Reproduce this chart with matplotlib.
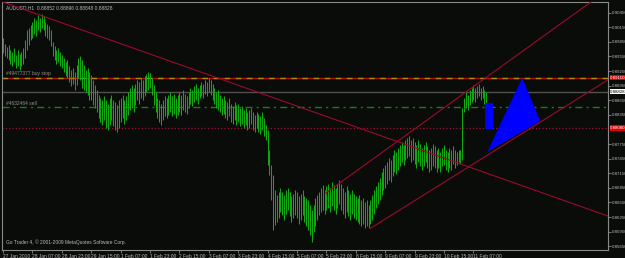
import matplotlib
matplotlib.use('Agg')
import matplotlib.pyplot as plt
import matplotlib.patches as mpatches

plt.rcParams['font.family'] = ['Liberation Sans Narrow', 'Liberation Sans', 'DejaVu Sans']

# AUDUSD H1 bars, highs / lows per hour (16 bars per time label)
highs = [
    0.8993, 0.8981, 0.8974, 0.8979, 0.8968, 0.8964, 0.8972, 0.8958, 0.8968, 0.8960, 0.8964, 0.8972, 0.8989, 0.9009, 0.9013, 0.9020,
    0.9026, 0.9034, 0.9030, 0.9040, 0.9034, 0.9042, 0.9038, 0.9026, 0.9022, 0.9018, 0.9009, 0.8985, 0.8976, 0.8968, 0.8972, 0.8964,
    0.8958, 0.8952, 0.8944, 0.8948, 0.8935, 0.8927, 0.8931, 0.8923, 0.8937, 0.8952, 0.8956, 0.8948, 0.8937, 0.8927, 0.8931, 0.8923,
    0.8917, 0.8907, 0.8896, 0.8886, 0.8876, 0.8870, 0.8866, 0.8874, 0.8866, 0.8857, 0.8870, 0.8876, 0.8866, 0.8861, 0.8855, 0.8866,
    0.8870, 0.8876, 0.8866, 0.8874, 0.8882, 0.8890, 0.8896, 0.8890, 0.8898, 0.8907, 0.8902, 0.8911, 0.8907, 0.8915, 0.8919, 0.8923,
    0.8921, 0.8911, 0.8896, 0.8882, 0.8870, 0.8866, 0.8857, 0.8866, 0.8874, 0.8870, 0.8876, 0.8882, 0.8874, 0.8878, 0.8870, 0.8876,
    0.8882, 0.8876, 0.8886, 0.8878, 0.8874, 0.8882, 0.8890, 0.8886, 0.8894, 0.8898, 0.8890, 0.8896, 0.8902, 0.8898, 0.8907, 0.8902,
    0.8911, 0.8907, 0.8898, 0.8890, 0.8882, 0.8886, 0.8876, 0.8870, 0.8874, 0.8866, 0.8861, 0.8870, 0.8857, 0.8853, 0.8861, 0.8855,
    0.8857, 0.8849, 0.8853, 0.8845, 0.8849, 0.8841, 0.8845, 0.8849, 0.8841, 0.8835, 0.8841, 0.8837, 0.8833, 0.8841, 0.8829, 0.8814,
    0.8804, 0.8763, 0.8732, 0.8711, 0.8681, 0.8670, 0.8676, 0.8685, 0.8676, 0.8670, 0.8681, 0.8685, 0.8676, 0.8668, 0.8672, 0.8681,
    0.8676, 0.8668, 0.8672, 0.8681, 0.8668, 0.8664, 0.8660, 0.8650, 0.8639, 0.8650, 0.8664, 0.8670, 0.8676, 0.8685, 0.8691, 0.8681,
    0.8689, 0.8693, 0.8685, 0.8697, 0.8691, 0.8685, 0.8693, 0.8701, 0.8693, 0.8685, 0.8676, 0.8689, 0.8681, 0.8672, 0.8681, 0.8672,
    0.8668, 0.8664, 0.8670, 0.8660, 0.8664, 0.8656, 0.8660, 0.8650, 0.8660, 0.8670, 0.8681, 0.8689, 0.8697, 0.8705, 0.8718, 0.8726,
    0.8732, 0.8738, 0.8746, 0.8742, 0.8752, 0.8763, 0.8759, 0.8767, 0.8773, 0.8779, 0.8773, 0.8783, 0.8787, 0.8792, 0.8783, 0.8787,
    0.8779, 0.8773, 0.8783, 0.8775, 0.8767, 0.8773, 0.8779, 0.8771, 0.8763, 0.8767, 0.8775, 0.8771, 0.8763, 0.8767, 0.8759, 0.8767,
    0.8773, 0.8763, 0.8759, 0.8767, 0.8763, 0.8771, 0.8763, 0.8759, 0.8763, 0.8763, 0.8849, 0.8870, 0.8882, 0.8876, 0.8886, 0.8890,
    0.8896, 0.8890, 0.8894, 0.8898, 0.8890, 0.8894, 0.8886, 0.8882,
]
lows = [
    0.8962, 0.8956, 0.8952, 0.8948, 0.8939, 0.8935, 0.8944, 0.8931, 0.8935, 0.8927, 0.8935, 0.8939, 0.8952, 0.8968, 0.8979, 0.8989,
    0.8993, 0.9001, 0.8997, 0.9009, 0.9005, 0.9013, 0.9009, 0.8997, 0.8993, 0.8989, 0.8976, 0.8956, 0.8948, 0.8939, 0.8944, 0.8935,
    0.8931, 0.8923, 0.8915, 0.8911, 0.8902, 0.8894, 0.8898, 0.8886, 0.8896, 0.8911, 0.8907, 0.8890, 0.8886, 0.8882, 0.8876, 0.8866,
    0.8866, 0.8855, 0.8849, 0.8841, 0.8829, 0.8820, 0.8814, 0.8824, 0.8808, 0.8804, 0.8814, 0.8824, 0.8812, 0.8804, 0.8800, 0.8808,
    0.8820, 0.8829, 0.8816, 0.8824, 0.8835, 0.8845, 0.8849, 0.8841, 0.8855, 0.8866, 0.8857, 0.8870, 0.8866, 0.8874, 0.8882, 0.8886,
    0.8890, 0.8876, 0.8855, 0.8841, 0.8829, 0.8820, 0.8814, 0.8824, 0.8833, 0.8829, 0.8835, 0.8841, 0.8833, 0.8837, 0.8829, 0.8835,
    0.8841, 0.8835, 0.8845, 0.8841, 0.8837, 0.8849, 0.8857, 0.8853, 0.8861, 0.8866, 0.8857, 0.8870, 0.8874, 0.8870, 0.8878, 0.8874,
    0.8882, 0.8876, 0.8866, 0.8857, 0.8849, 0.8845, 0.8841, 0.8835, 0.8837, 0.8829, 0.8824, 0.8833, 0.8820, 0.8816, 0.8824, 0.8814,
    0.8820, 0.8812, 0.8816, 0.8808, 0.8814, 0.8804, 0.8808, 0.8816, 0.8804, 0.8800, 0.8808, 0.8800, 0.8796, 0.8804, 0.8792, 0.8783,
    0.8732, 0.8711, 0.8660, 0.8598, 0.8609, 0.8615, 0.8623, 0.8635, 0.8629, 0.8619, 0.8631, 0.8639, 0.8627, 0.8615, 0.8623, 0.8629,
    0.8623, 0.8611, 0.8619, 0.8629, 0.8615, 0.8607, 0.8598, 0.8588, 0.8574, 0.8594, 0.8607, 0.8619, 0.8629, 0.8635, 0.8639, 0.8631,
    0.8639, 0.8644, 0.8635, 0.8648, 0.8639, 0.8631, 0.8644, 0.8652, 0.8639, 0.8631, 0.8623, 0.8635, 0.8627, 0.8619, 0.8631, 0.8623,
    0.8619, 0.8615, 0.8611, 0.8607, 0.8611, 0.8602, 0.8607, 0.8602, 0.8611, 0.8619, 0.8631, 0.8644, 0.8652, 0.8660, 0.8670, 0.8681,
    0.8685, 0.8693, 0.8701, 0.8697, 0.8709, 0.8718, 0.8713, 0.8722, 0.8730, 0.8738, 0.8732, 0.8742, 0.8746, 0.8750, 0.8738, 0.8742,
    0.8734, 0.8726, 0.8738, 0.8730, 0.8722, 0.8730, 0.8738, 0.8726, 0.8718, 0.8722, 0.8730, 0.8726, 0.8718, 0.8726, 0.8718, 0.8730,
    0.8732, 0.8722, 0.8718, 0.8726, 0.8722, 0.8734, 0.8726, 0.8732, 0.8738, 0.8734, 0.8742, 0.8841, 0.8849, 0.8845, 0.8855, 0.8861,
    0.8866, 0.8861, 0.8870, 0.8874, 0.8866, 0.8870, 0.8857, 0.8855,
]

time_labels = ['27 Jan 2010', '28 Jan 07:00', '28 Jan 23:00', '29 Jan 15:00', '1 Feb 07:00',
               '1 Feb 23:00', '2 Feb 15:00', '3 Feb 07:00', '3 Feb 23:00', '4 Feb 15:00',
               '5 Feb 07:00', '5 Feb 23:00', '8 Feb 15:00', '9 Feb 07:00', '9 Feb 23:00',
               '10 Feb 15:00', '11 Feb 07:00']
price_ticks = [0.90450, 0.90150, 0.89850, 0.89550, 0.89250, 0.88950, 0.88650, 0.88350,
               0.87750, 0.87450, 0.87150, 0.86850, 0.86550, 0.86250, 0.85950, 0.85650]

bid = 0.88828
buy_stop = 0.8911
sell_level = 0.8851
red_level = 0.8808

# chart objects (bar index, price)
trend_down = [(4.3, 0.9061), (329.3, 0.8627)]
chan_upper = [(175.5, 0.8674), (320.0, 0.9067)]
chan_lower = [(200.0, 0.8602), (329.3, 0.8907)]
blue_rect = [(262.5, 0.8806), (266.8, 0.8859)]
blue_tri = [(282.6, 0.8911), (292.4, 0.8822), (263.6, 0.8759)]

bg = '#0a0c0a'
txt = '#b8b8b8'
grn = '#12a812'
red = '#9c0a2a'
fs = 3.5
fs_r = 3.2

fig = plt.figure(figsize=(6.25, 2.58), dpi=100, facecolor=bg)
ax = fig.add_axes([2 / 625, 8 / 258, 606 / 625, 248 / 258], facecolor=bg)
x0, x1 = -0.6, 329.3
y0, y1 = 0.85573, 0.90669
ax.set_xlim(x0, x1)
ax.set_ylim(y0, y1)

idx = list(range(len(highs)))
ax.vlines(idx, lows, highs, color=grn, lw=0.75, zorder=3)

# horizontal levels
ax.axhline(buy_stop, color='#b01010', lw=1.0, zorder=2)
ax.axhline(buy_stop, color='#b08a10', lw=1.0, dashes=(4, 4), zorder=2)
ax.axhline(bid, color='#505050', lw=1.0, zorder=2)
ax.axhline(sell_level, color='#1e7a1e', lw=1.0, dashes=(5, 3, 1.5, 3), zorder=2)
ax.axhline(red_level, color='#a01030', lw=0.9, ls=':', zorder=2)

# trend lines
ax.axline(trend_down[0], trend_down[1], color=red, lw=0.8, zorder=4)


def ray(p, q):
    slope = (q[1] - p[1]) / (q[0] - p[0])
    ax.plot([p[0], x1], [p[1], p[1] + slope * (x1 - p[0])], color=red, lw=0.8, zorder=4)


ray(*chan_upper)
ray(*chan_lower)

ax.add_patch(mpatches.Rectangle(blue_rect[0], blue_rect[1][0] - blue_rect[0][0],
                                blue_rect[1][1] - blue_rect[0][1], color='#0000ff', lw=0, zorder=5))
ax.add_patch(mpatches.Polygon(blue_tri, closed=True, color='#0000ff', lw=0, zorder=5))

# axes styling
for s in ax.spines.values():
    s.set_color('#8a8a8a')
    s.set_linewidth(0.8)
ax.yaxis.tick_right()
ax.set_yticks(price_ticks)
ax.set_yticklabels(['%.5f' % v for v in price_ticks])
ax.set_xticks([16 * k for k in range(len(time_labels))])
ax.set_xticklabels(time_labels, ha='left')
ax.tick_params(axis='x', colors='#8a8a8a', labelcolor=txt, labelsize=fs, length=2.5,
               width=0.6, pad=0.5)
ax.tick_params(axis='y', colors='#8a8a8a', labelcolor=txt, labelsize=fs_r, length=2,
               width=0.6, pad=0.5)


# price labels on the right
def price_box(v, fc, tc):
    ax.text(1.0035, v, '%.5f' % v, transform=ax.get_yaxis_transform(), fontsize=fs_r,
            color=tc, va='center', ha='left',
            bbox=dict(boxstyle='square,pad=0.12', fc=fc, ec='none'), clip_on=False)


price_box(buy_stop, '#e00000', 'white')
price_box(red_level, '#e00000', 'white')
price_box(bid, 'white', 'black')

ax.text(0.006, 0.985, 'AUDUSD,H1  0.88852 0.88896 0.88848 0.88828', transform=ax.transAxes,
        fontsize=fs, color=txt, va='top', ha='left')
ax.text(0.006, buy_stop + 0.0003, '#49477377 buy stop', fontsize=fs, color='#909090',
        va='bottom', transform=ax.get_yaxis_transform())
ax.text(0.006, sell_level + 0.0003, '#4632464 sell', fontsize=fs, color='#909090',
        va='bottom', transform=ax.get_yaxis_transform())
ax.text(0.006, 0.02, 'Go Trader 4, \u00a9 2001-2009 MetaQuotes Software Corp.', transform=ax.transAxes,
        fontsize=fs, color=txt, va='bottom', ha='left')

fig.savefig('out.png', dpi=100, facecolor=bg)
